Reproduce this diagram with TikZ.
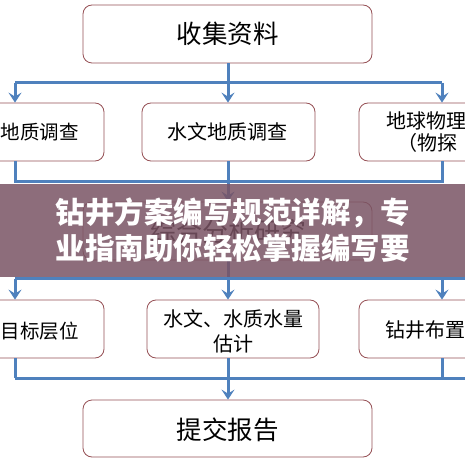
\documentclass[tikz,border=0pt]{standalone}
\usepackage{fontspec}
\newfontfamily\cjk{Noto Sans CJK SC}
\usetikzlibrary{arrows.meta}
\definecolor{boxred}{RGB}{150,80,85}
\definecolor{lineblue}{RGB}{79,129,189}
\definecolor{bannerc}{RGB}{122,84,100}
\tikzset{
  box/.style={draw=boxred, line width=0.8pt, rounded corners=9pt, fill=white, inner sep=0pt},
  lbl/.style={font=\cjk, inner sep=0pt, text=black},
  conn/.style={draw=lineblue, line width=3pt},
  arr/.style={draw=lineblue, line width=3pt, -{Stealth[length=10pt,width=13pt,inset=4pt]}},
  banner/.style={font=\cjk\bfseries\fontsize{29.5}{35}\selectfont, text=white, inner sep=0pt}
}
\begin{document}
\begin{tikzpicture}[x=1pt,y=-1pt]
\useasboundingbox (0,0) rectangle (465,465);
\clip (0,0) rectangle (465,465);
\fill[white] (0,0) rectangle (465,465);
% boxes
\node[box, minimum width=289pt, minimum height=58pt] (top) at (227.5,34) {};
\node[box, minimum width=172pt, minimum height=58pt] (b2a) at (18,132) {};
\node[box, minimum width=173pt, minimum height=58pt] (b2b) at (228.5,132) {};
\node[box, minimum width=172pt, minimum height=58pt] (b2c) at (445,132) {};
\node[box, minimum width=289pt, minimum height=58pt] (mid) at (227.5,231) {};
\node[box, minimum width=172pt, minimum height=58pt] (b3a) at (18,329) {};
\node[box, minimum width=172pt, minimum height=58pt] (b3b) at (233,329) {};
\node[box, minimum width=172pt, minimum height=58pt] (b3c) at (445,329) {};
\node[box, minimum width=289pt, minimum height=57pt] (bot) at (227.5,428.5) {};
% texts
\node[lbl, font=\cjk\fontsize{25.5}{30}\selectfont] (ttop) at (top.center) {收集资料};
\node[lbl, font=\cjk\fontsize{19.5}{24}\selectfont, anchor=west] (t2a) at (0.5,132) {地质调查};
\node[lbl, font=\cjk\fontsize{20}{24}\selectfont] (t2b) at (227.5,132) {水文地质调查};
\node[lbl, font=\cjk\fontsize{20}{24}\selectfont, anchor=west] (t2c1) at (386,121) {地球物理};
\node[lbl, font=\cjk\fontsize{20}{24}\selectfont, anchor=west] (t2c2) at (397,143) {（物探};
\node[lbl, font=\cjk\fontsize{26}{30}\selectfont] (tmid) at (228,232) {综合分析研究};
\node[lbl, font=\cjk\fontsize{19.5}{24}\selectfont, anchor=west] (t3a) at (0.5,331) {目标层位};
\node[lbl, font=\cjk\fontsize{20}{24}\selectfont] (t3b1) at (233,319) {水文、水质水量};
\node[lbl, font=\cjk\fontsize{20}{24}\selectfont] (t3b2) at (233,344) {估计};
\node[lbl, font=\cjk\fontsize{20}{24}\selectfont, anchor=west] (t3c) at (385,330) {钻井布置};
\node[lbl, font=\cjk\fontsize{25.5}{30}\selectfont] (tbot) at (227.5,430) {提交报告};
% junction coordinates
\coordinate (j1) at (228,83);
\coordinate (j1L) at (15,83);
\coordinate (j1R) at (442,83);
\coordinate (j2) at (228,181);
\coordinate (j2L) at (15,181);
\coordinate (j2R) at (442,181);
\coordinate (j3) at (228,278.5);
\coordinate (j3L) at (15,278.5);
\coordinate (j3R) at (442,278.5);
\coordinate (j3E) at (466,278.5);
\coordinate (j4) at (228,378);
\coordinate (j4L) at (15,378);
\coordinate (j4R) at (442,378);
\coordinate (j4E) at (466,378);
% connectors level 1
\draw[conn] (j1 |- top.south) -- (j1);
\draw[conn] (j1L) -- (j1R);
\draw[arr] (j1L) -- (j1L |- b2a.north);
\draw[arr] (j1) -- (j1 |- b2b.north);
\draw[arr] (j1R) -- (j1R |- b2c.north);
% level 2
\draw[conn] (j2L |- b2a.south) -- (j2L) -- (j2R) -- (j2R |- b2c.south);
\draw[conn] (j2 |- b2b.south) -- (j2);
\draw[arr] (j2) -- (j2 |- mid.north);
% level 3
\draw[conn] (j3 |- mid.south) -- (j3);
\draw[conn] (j3L) -- (j3E);
\draw[arr] (j3L) -- (j3L |- b3a.north);
\draw[arr] (j3) -- (j3 |- b3b.north);
\draw[arr] (j3R) -- (j3R |- b3c.north);
% level 4
\draw[conn] (j4L |- b3a.south) -- (j4L);
\draw[conn] (j4R |- b3c.south) -- (j4R);
\draw[conn] (j4 |- b3b.south) -- (j4);
\draw[conn] (j4L) -- (j4E);
\draw[arr] (j4) -- (j4 |- bot.north);
% banner
\fill[bannerc, opacity=0.85] (0,184) rectangle (465,277);
\node[banner] (bn1) at (232.5,213) {钻井方案编写规范详解，专};
\node[banner] (bn2) at (232.5,248) {业指南助你轻松掌握编写要};
\end{tikzpicture}
\end{document}
